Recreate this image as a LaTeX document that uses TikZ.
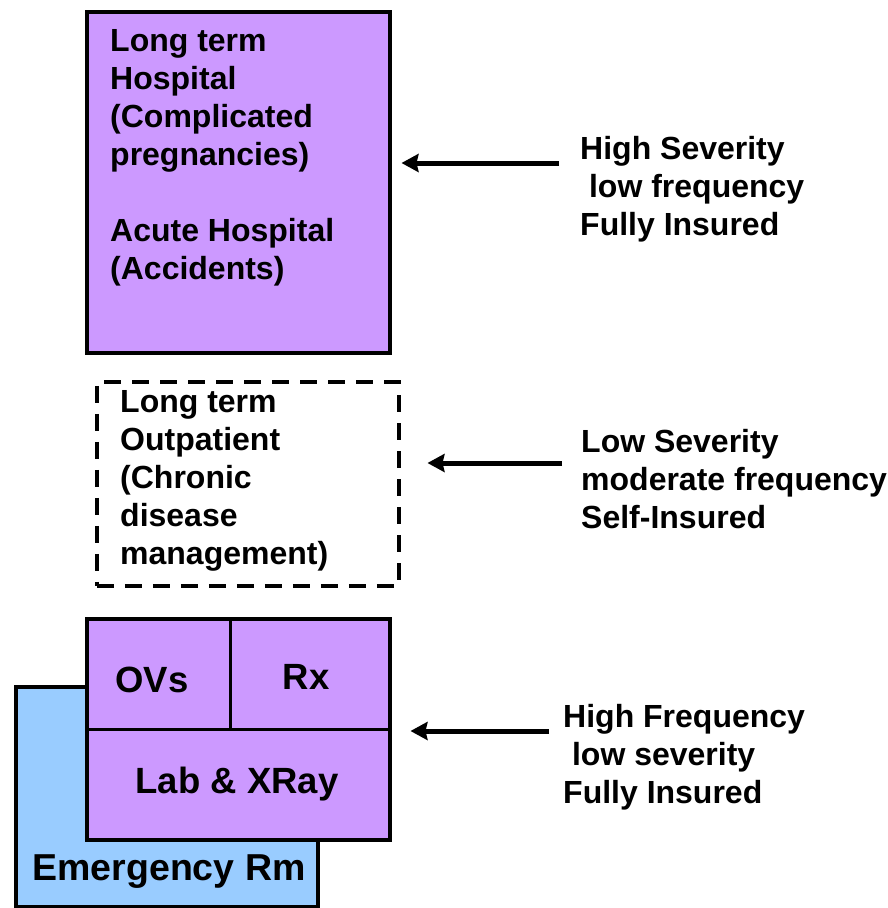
\documentclass[tikz,border=0pt]{standalone}
\usepackage{fontspec}
\setmainfont{Liberation Sans}
\usetikzlibrary{positioning,arrows.meta}
\definecolor{careViolet}{HTML}{CC99FF}
\definecolor{careBlue}{HTML}{99CCFF}
\tikzset{
  careBox/.style={rectangle, fill=careViolet, draw, line width=3.5pt, anchor=north west, inner sep=0pt},
  planBox/.style={rectangle, draw, line width=3.5pt, dash pattern=on 17pt off 11pt, anchor=north west, inner sep=0pt},
  cell/.style={rectangle, fill=careViolet, draw, line width=1.5pt, anchor=north west, inner sep=0pt},
%  cellShadow/.style={rectangle, fill=gray!40, draw},
  caption/.style={anchor=north west, inner sep=0pt, align=left, font=\fontsize{32}{38}\selectfont\bfseries},
  cellText/.style={anchor=base, inner sep=0pt, font=\fontsize{36.5}{43}\selectfont\bfseries},
  pointTo/.style={line width=5pt, -{Stealth[length=17pt,width=18pt,inset=2pt]}}
}
\begin{document}
\begin{tikzpicture}[x=1pt, y=-1pt]
  \useasboundingbox (0,0) rectangle (888,908);
  % hospital tier
  \node [careBox, minimum width=303pt, minimum height=341pt] (hosp) at (85,10) {};
  \node [caption] (hospText) at (110,29) {Long term\\Hospital\\(Complicated\\pregnancies)\\[38pt]Acute Hospital\\(Accidents)};
  % outpatient tier
  \node [planBox, minimum width=302pt, minimum height=204pt] (outpat) at (95,380) {};
  \node [caption] (outpatText) at (120,390) {Long term\\Outpatient\\(Chronic\\disease\\management)};
  % office tier
  \node [careBox, fill=careBlue, minimum width=302pt, minimum height=220pt] (emerg) at (14,685) {};
  \node [cell, minimum width=144pt, minimum height=111pt] (ovsCell) at (85,617) {};
  \node [cell, minimum width=159pt, minimum height=111pt] (rxCell) at (ovsCell.north east) {};
  \node [cell, minimum width=303pt, minimum height=110pt] (labCell) at (ovsCell.south west) {};
  \node [careBox, fill=none, minimum width=303pt, minimum height=221pt] (office) at (85,617) {};
  \node [cellText] (ovs) at (152,692) {OVs};
  \node [cellText] (rx) at (306,689) {Rx};
  \node [cellText] (lab) at (237,793) {Lab \& XRay};
  \node [cellText, font=\fontsize{37.5}{45}\selectfont\bfseries] (er) at (169,880) {Emergency Rm};
  % severity labels
  \node [caption] (sevHosp) at (580,136) {High Severity\\~low frequency\\Fully Insured};
  \node [caption] (sevOut) at (581,429) {Low Severity\\moderate frequency\\Self-Insured};
  \node [caption] (sevOffice) at (563,704) {High Frequency\\~low severity\\Fully Insured};
  \coordinate (tailHosp) at (559,163);
  \coordinate (tailOut) at (562,463);
  \coordinate (tailOffice) at (549,731);
  \draw [pointTo, shorten >=10pt] (tailHosp) -- (hosp.east |- tailHosp);
  \draw [pointTo, shorten >=27pt] (tailOut) -- (outpat.east |- tailOut);
  \draw [pointTo, shorten >=19pt] (tailOffice) -- (office.east |- tailOffice);
\end{tikzpicture}
\end{document}
